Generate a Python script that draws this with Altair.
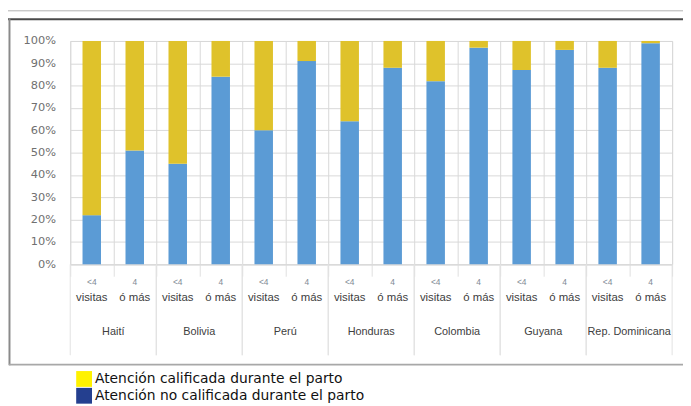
import altair as alt
import pandas as pd

countries = ["Haití", "Bolivia", "Perú", "Honduras", "Colombia", "Guyana", "Rep. Dominicana"]
visit_groups = ["<4", "4"]
visit_words = ["visitas", "ó más"]
# share (%) of births with the blue segment (bottom) for each visit group
blue_lt4 = [22, 45, 60, 64, 82, 87, 88]
blue_ge4 = [51, 84, 91, 88, 97, 96, 99]

series_blue = "no calificada"
series_yellow = "calificada"
bar_colors = ["#5B9BD5", "#DFC22B"]

legend_labels = ["Atención calificada durante el parto", "Atención no calificada durante el parto"]
legend_colors = ["#FFF200", "#243F8F"]

rows = []
keys = []
for c, b1, b2 in zip(countries, blue_lt4, blue_ge4):
    for v, b in zip(visit_groups, [b1, b2]):
        k = f"{c}|{v}"
        keys.append(k)
        rows.append({"key": k, "country": c, "visit": v, "series": series_blue, "value": b, "order": 0})
        rows.append({"key": k, "country": c, "visit": v, "series": series_yellow, "value": 100 - b, "order": 1})
df = pd.DataFrame(rows)

lab_df = pd.DataFrame([{"key": f"{c}|{v}", "country": c, "visit": v, "word": w}
                       for c in countries for v, w in zip(visit_groups, visit_words)])
grp_df = lab_df[lab_df["visit"] == "<4"]
end_df = lab_df[lab_df["visit"] == "4"]

W, H = 609, 226
STEP = W / len(keys)
FONT = "Liberation Sans"

xscale = alt.Scale(domain=keys, paddingInner=0, paddingOuter=0)
xenc = alt.X("key:N", scale=xscale, sort=keys)

bars = alt.Chart(df).mark_bar(width=alt.RelativeBandSize(0.43)).encode(
    x=alt.X("key:N", scale=xscale, sort=keys, title=None,
            axis=alt.Axis(labels=False, tickBand="extent", grid=True, gridColor="#d9d9d9",
                          tickColor="#e0e0e0", tickSize=12, domainColor="#d9d9d9")),
    y=alt.Y("value:Q", stack="zero", scale=alt.Scale(domain=[0, 100]), title=None,
            axis=alt.Axis(values=list(range(0, 101, 10)), labelExpr="datum.value + '%'",
                          labelFont="DejaVu Sans", labelFontSize=11.5, labelColor="#707070",
                          ticks=False, domain=False, labelPadding=15, gridColor="#d9d9d9")),
    color=alt.Color("series:N", scale=alt.Scale(domain=[series_blue, series_yellow], range=bar_colors), legend=None),
    order=alt.Order("order:Q"),
)

small = alt.Chart(lab_df).mark_text(font=FONT, fontSize=8.5, color="#7f8a96", baseline="middle").encode(
    x=xenc, y=alt.value(244), text="visit:N",
)

words = alt.Chart(lab_df).mark_text(font=FONT, fontSize=11.5, color="#404040", baseline="middle").encode(
    x=xenc, y=alt.value(260), text="word:N",
)

country_txt = alt.Chart(grp_df).mark_text(font=FONT, fontSize=11, color="#404040", baseline="middle", dx=STEP / 2).encode(
    x=xenc, y=alt.value(295), text="country:N",
)

sep_start = alt.Chart(grp_df).mark_rule(color="#e2e2e2", xOffset=-STEP / 2).encode(
    x=xenc, y=alt.value(H), y2=alt.value(318))
sep_end = alt.Chart(end_df).mark_rule(color="#e2e2e2", xOffset=STEP / 2).encode(
    x=xenc, y=alt.value(H), y2=alt.value(318))

one = pd.DataFrame({"a": [0]})
frame_light = alt.Chart(one).mark_rule(color="#b0b0b0", strokeWidth=1).encode(
    x=alt.value(-63), x2=alt.value(620), y=alt.value(-30.5))
frame_dark = alt.Chart(one).mark_rule(color="#4a4a4a", strokeWidth=2).encode(
    x=alt.value(-63), x2=alt.value(620), y=alt.value(-22))
frame_left = alt.Chart(one).mark_rule(color="#8a8a8a", strokeWidth=2).encode(
    x=alt.value(-61.5), y=alt.value(-23), y2=alt.value(328))
frame_bottom = alt.Chart(one).mark_rule(color="#a8a8a8", strokeWidth=2).encode(
    x=alt.value(-62), x2=alt.value(620), y=alt.value(327.5))

legend_layer = alt.Chart(pd.DataFrame({"label": legend_labels})).mark_square(opacity=0).encode(
    color=alt.Color("label:N", scale=alt.Scale(domain=legend_labels, range=legend_colors),
                    legend=alt.Legend(orient="none", legendX=6, legendY=334, title=None,
                                      symbolType="square", symbolSize=256, symbolOpacity=1,
                                      symbolStrokeWidth=0, labelFont="DejaVu Sans", labelFontSize=14,
                                      labelLimit=0, labelColor="#111111", labelOffset=3,
                                      rowPadding=1, padding=0)),
)

chart = alt.layer(
    bars, small, words, country_txt, sep_start, sep_end,
    frame_light, frame_dark, frame_left, frame_bottom, legend_layer
).resolve_scale(color="independent").properties(
    width=W, height=H,
    autosize=alt.AutoSizeParams(type="none"),
    padding={"left": 63, "top": 31, "right": 11, "bottom": 141},
).configure_view(stroke="#d9d9d9")

chart.save("out.html", embed_options={"renderer": "svg", "actions": False})
